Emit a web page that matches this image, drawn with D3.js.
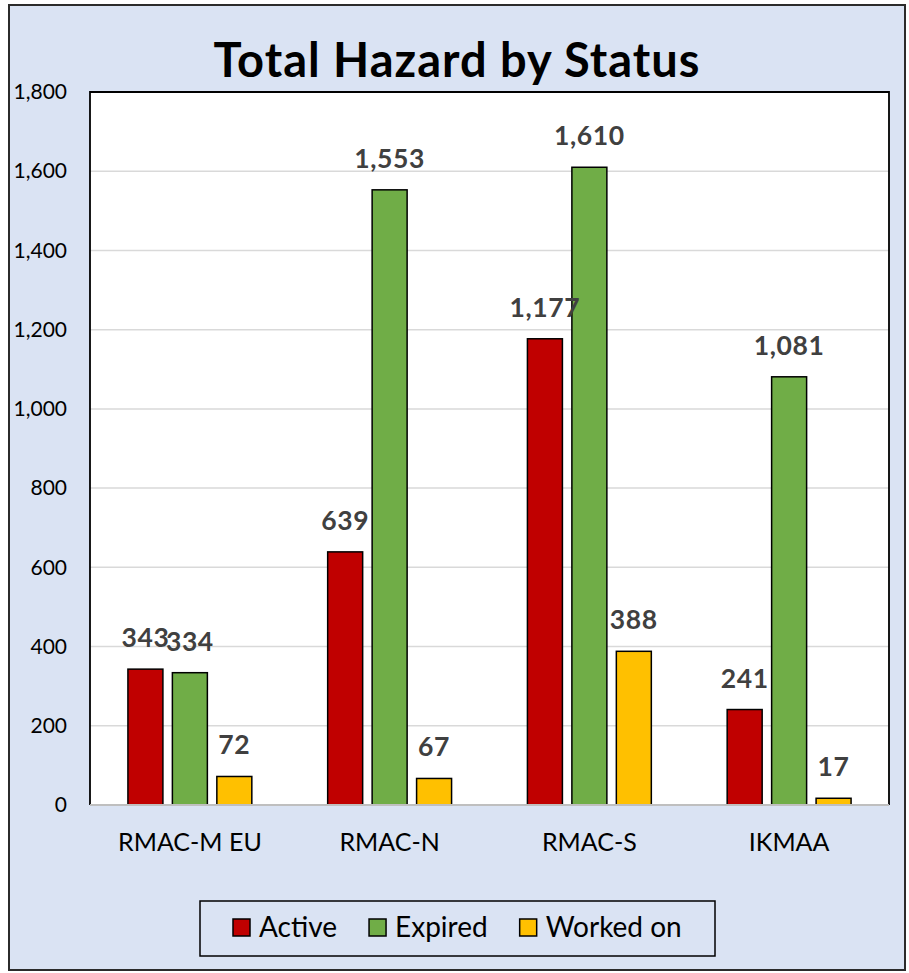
<!DOCTYPE html>
<html><head><meta charset="utf-8">
<script src="https://cdn.jsdelivr.net/npm/d3@7"></script>
<style>
body{margin:0;background:#fff;}
text{font-family:Lato,"Open Sans",sans-serif;}
</style></head>
<body><svg id="chart" width="909" height="973"></svg>
<script>
const categories = ["RMAC-M EU","RMAC-N","RMAC-S","IKMAA"];
const seriesNames = ["Active","Expired","Worked on"];
const activeValues = [343,639,1177,241];
const expiredValues = [334,1553,1610,1081];
const workedOnValues = [72,67,388,17];
const yTicks = [0,200,400,600,800,1000,1200,1400,1600,1800];
const colors = ["#c00000","#70ad47","#ffc000"];
const title = "Total Hazard by Status";

const seriesValues = [activeValues, expiredValues, workedOnValues];
const data = categories.map((c,i)=>({cat:c, vals: seriesNames.map((s,j)=>({s, v: seriesValues[j][i], color: colors[j]}))}));

const svg = d3.select("#chart");
// outer frame
svg.append("rect").attr("x",9).attr("y",5).attr("width",896).attr("height",965)
  .attr("fill","#dae3f3").attr("stroke","#2b2b2b").attr("stroke-width",2);

const plot = {l:90, t:92, r:889, b:805};
svg.append("rect").attr("x",plot.l).attr("y",plot.t).attr("width",plot.r-plot.l).attr("height",plot.b-plot.t)
  .attr("fill","#fff");

const y = d3.scaleLinear().domain([0,1800]).range([plot.b, plot.t]);
const x0 = d3.scaleBand().domain(categories).range([plot.l, plot.r]).padding(0);
const x1 = d3.scaleBand().domain(seriesNames).range([0, x0.bandwidth()]).paddingInner(0.213).paddingOuter(0.853);

// gridlines
svg.append("g").selectAll("line").data(yTicks.filter(t=>t>0)).join("line")
  .attr("x1",plot.l).attr("x2",plot.r).attr("y1",d=>y(d)).attr("y2",d=>y(d))
  .attr("stroke","#d9d9d9").attr("stroke-width",1.5);

// plot border (left/top/right)
svg.append("path").attr("d",`M${plot.l},${plot.b}V${plot.t}H${plot.r}V${plot.b}`)
  .attr("fill","none").attr("stroke","#000").attr("stroke-width",1.8);

// y axis labels
const yAxis = d3.axisLeft(y).tickValues(yTicks).tickSize(0).tickPadding(23).tickFormat(d3.format(","));
const yg = svg.append("g").attr("transform",`translate(${plot.l},0)`).call(yAxis);
yg.select(".domain").remove();
yg.selectAll("text").attr("font-size",21).attr("fill","#000").style("font-family","Lato");

// bars
const groups = svg.append("g").selectAll("g").data(data).join("g")
  .attr("transform",d=>`translate(${x0(d.cat)},0)`);
groups.selectAll("rect").data(d=>d.vals).join("rect")
  .attr("x",d=>x1(d.s)).attr("width",x1.bandwidth())
  .attr("y",d=>y(d.v)).attr("height",d=>y(0)-y(d.v))
  .attr("fill",d=>d.color).attr("stroke","#000").attr("stroke-width",1.5);

// bottom axis line
svg.append("line").attr("x1",plot.l).attr("x2",plot.r).attr("y1",plot.b).attr("y2",plot.b)
  .attr("stroke","#bfbfbf").attr("stroke-width",2);

// data labels
groups.selectAll("text.lbl").data(d=>d.vals).join("text").attr("class","lbl")
  .attr("x",d=>x1(d.s)+x1.bandwidth()/2).attr("y",d=>y(d.v)-22)
  .attr("text-anchor","middle").attr("font-size",26.5).attr("font-weight","bold")
  .attr("letter-spacing",0.6)
  .attr("fill","#404040").text(d=>d3.format(",")(d.v));

// x axis labels
const xAxis = d3.axisBottom(x0).tickSize(0).tickPadding(28);
const xg = svg.append("g").attr("transform",`translate(0,${plot.b})`).call(xAxis);
xg.select(".domain").remove();
xg.selectAll("text").attr("font-size",25).attr("fill","#000").style("font-family","Lato");

// title
svg.append("text").attr("x",457).attr("y",77).attr("text-anchor","middle")
  .attr("font-size",47).attr("font-weight","bold").attr("letter-spacing",1).attr("fill","#000").text(title);

// legend
const lg = svg.append("g");
lg.append("rect").attr("x",200).attr("y",901).attr("width",515).attr("height",55)
  .attr("fill","none").attr("stroke","#000").attr("stroke-width",1.5);
let lx = 233;
seriesNames.forEach((s,i)=>{
  lg.append("rect").attr("x",lx).attr("y",919).attr("width",17).attr("height",17)
    .attr("fill",colors[i]).attr("stroke","#000").attr("stroke-width",1.5);
  const t = lg.append("text").attr("x",lx+26).attr("y",937).attr("font-size",28).attr("fill","#000").text(s);
  lx += 26 + t.node().getComputedTextLength() + 32;
});
</script></body></html>
